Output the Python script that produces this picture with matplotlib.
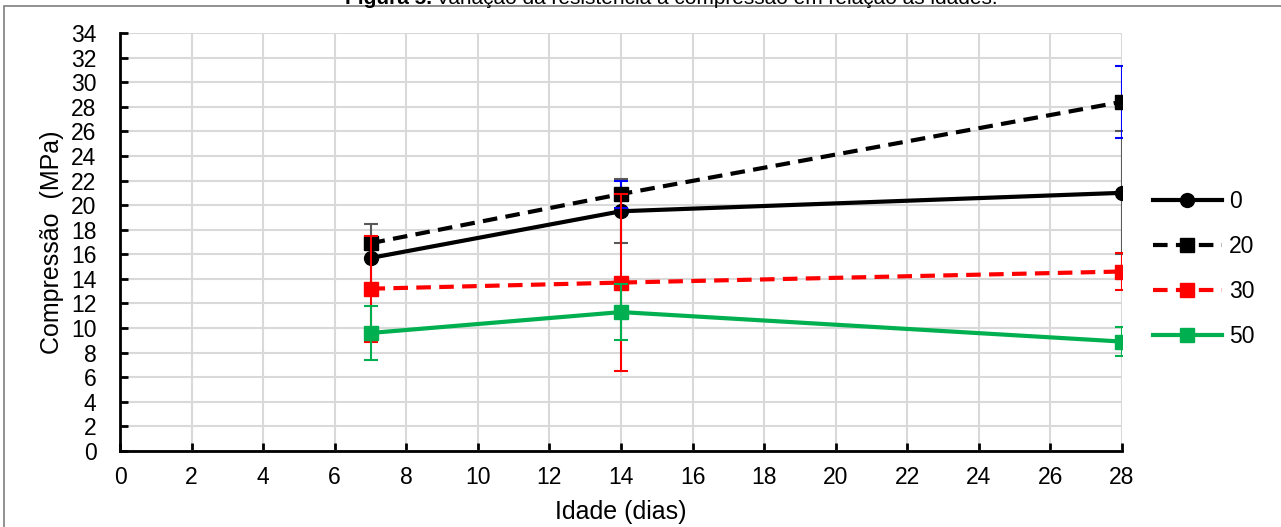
import numpy as np
import matplotlib.pyplot as plt
from matplotlib.patches import Rectangle

plt.rcParams['font.family'] = ['Liberation Sans', 'DejaVu Sans']

# Dados
idade = [7, 14, 28]
serie_0 = [15.7, 19.5, 21.0]
erro_0 = [2.8, 2.6, 5.0]
serie_20 = [16.9, 20.9, 28.4]
erro_20 = [0.3, 1.1, 2.9]
serie_30 = [13.2, 13.7, 14.6]
erro_30 = [4.3, 7.2, 1.5]
serie_50 = [9.6, 11.3, 8.9]
erro_50 = [2.2, 2.3, 1.2]

W, H = 1281, 527
fig = plt.figure(figsize=(W / 100, H / 100), dpi=100)
ax = fig.add_axes([120 / W, 1 - 451 / H, 1002 / W, 418 / H])

# borda da figura
fig.patches.append(Rectangle((4 / W, -0.1), 1.2, 1 - 6 / H + 0.1, transform=fig.transFigure,
                             fill=False, edgecolor='#7f7f7f', linewidth=1.2))

# Título (cortado no topo, como na imagem original)
y_tit = 1 - 3.5 / H
t1 = fig.text(345 / W, y_tit, 'Figura 5.', fontweight='bold', fontsize=15, va='baseline')
r = fig.canvas.get_renderer()
bb = t1.get_window_extent(r)
fig.text((bb.x1 + 4) / W, y_tit, 'Variação da resistência à compressão em relação às idades.',
         fontsize=15, va='baseline')

series = [
    (serie_0, erro_0, '0', 'black', '-', 'o', '#595959'),
    (serie_20, erro_20, '20', 'black', (0, (3.5, 2)), 's', '#0000ff'),
    (serie_30, erro_30, '30', '#ff0000', (0, (3.5, 2)), 's', '#ff0000'),
    (serie_50, erro_50, '50', '#00b050', '-', 's', '#00b050'),
]
for i, (y, e, nome, cor, ls, mk, cor_erro) in enumerate(series):
    ax.errorbar(idade, y, yerr=e, fmt='none', ecolor=cor_erro, elinewidth=1.5,
                capsize=5, capthick=1.5, zorder=3 + 2 * i)
    ax.plot(idade, y, color=cor, linestyle=ls, linewidth=3, marker=mk,
            markersize=10, label=nome, zorder=4 + 2 * i)

ax.set_xlim(0, 28)
ax.set_ylim(0, 34)
ax.set_xticks(np.arange(0, 29, 2))
ax.set_yticks(np.arange(0, 35, 2))
ax.grid(True, color='#d9d9d9', linewidth=1.5)
ax.set_axisbelow(True)
for s in ['top', 'right']:
    ax.spines[s].set_visible(False)
ax.spines['left'].set_linewidth(2)
ax.spines['bottom'].set_linewidth(2)
ax.tick_params(direction='in', length=6, width=2, labelsize=16.5)
ax.tick_params(axis='y', pad=17)
ax.tick_params(axis='x', pad=11)
ax.set_xlabel('Idade (dias)', fontsize=18, labelpad=8)
ax.set_ylabel('Compressão  (MPa)', fontsize=18, labelpad=5)

ax.legend(loc='center left', bbox_to_anchor=((1153 - 120) / 1002, (451 - 269) / 418),
          frameon=False, fontsize=16.5, borderpad=0, borderaxespad=0,
          handlelength=3.0, numpoints=1, labelspacing=0.95, handletextpad=0.3)

plt.savefig('out.png', dpi=100)
